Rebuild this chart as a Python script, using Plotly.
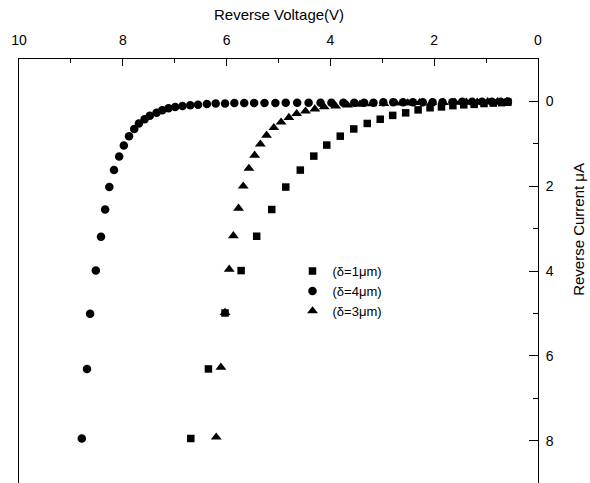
import plotly.graph_objects as go

# Reverse I-V characteristics for three spacings (voltage in V, current in uA)
v_d1 = [6.69, 6.35, 6.03, 5.72, 5.42, 5.13, 4.86, 4.58, 4.32, 4.07, 3.81, 3.55, 3.29,
        3.04, 2.80, 2.55, 2.31, 2.08, 1.86, 1.64, 1.43, 1.23, 1.04, 0.86, 0.70, 0.58]
i_d1 = [7.95, 6.31, 4.99, 3.99, 3.18, 2.55, 2.02, 1.62, 1.29, 1.03, 0.82, 0.65, 0.52,
        0.42, 0.33, 0.27, 0.20, 0.15, 0.13, 0.10, 0.08, 0.07, 0.05, 0.04, 0.03, 0.02]

v_d4 = [8.79, 8.69, 8.63, 8.52, 8.42, 8.34, 8.26, 8.17, 8.07, 7.98, 7.88, 7.78, 7.69,
        7.58, 7.48, 7.35, 7.24, 7.12, 6.99, 6.85, 6.70, 6.55, 6.38, 6.21, 6.03, 5.85,
        5.66, 5.47, 5.27, 5.06, 4.86, 4.64, 4.42, 4.19, 3.98, 3.75, 3.54, 3.35, 3.17,
        2.98, 2.79, 2.60, 2.41, 2.22, 2.03, 1.84, 1.65, 1.46, 1.27, 1.08, 0.89, 0.72, 0.58]
i_d4 = [7.95, 6.31, 5.01, 3.99, 3.19, 2.55, 2.02, 1.62, 1.30, 1.04, 0.82, 0.65, 0.52,
        0.42, 0.34, 0.27, 0.21, 0.16, 0.13, 0.11, 0.09, 0.08, 0.06, 0.05, 0.05, 0.04,
        0.04, 0.04, 0.04, 0.04, 0.03, 0.03, 0.03, 0.03, 0.03, 0.03, 0.03, 0.03, 0.03,
        0.02, 0.02, 0.02, 0.02, 0.02, 0.02, 0.02, 0.02, 0.01, 0.01, 0.01, 0.01, 0.01, 0.00]

v_d3 = [6.20, 6.11, 6.03, 5.95, 5.87, 5.77, 5.68, 5.57, 5.46, 5.35, 5.23, 5.09, 4.95,
        4.80, 4.65, 4.48, 4.30, 4.12, 3.90, 3.67, 3.43, 3.20, 2.97, 2.74, 2.51, 2.28,
        2.05, 1.82, 1.60, 1.38, 1.17, 0.97, 0.78, 0.60]
i_d3 = [7.92, 6.27, 4.98, 3.96, 3.17, 2.52, 2.00, 1.58, 1.27, 1.01, 0.80, 0.62, 0.49,
        0.38, 0.29, 0.23, 0.18, 0.13, 0.11, 0.09, 0.07, 0.06, 0.05, 0.04, 0.04, 0.03,
        0.03, 0.03, 0.02, 0.02, 0.02, 0.01, 0.01, 0.01]

names = ["(δ=1μm)", "(δ=4μm)", "(δ=3μm)"]
FONT = "Liberation Sans, Arial, sans-serif"

fig = go.Figure()
fig.add_trace(go.Scatter(x=v_d1, y=i_d1, mode="markers", name=names[0],
                         marker=dict(symbol="square", size=7.5, color="black")))
fig.add_trace(go.Scatter(x=v_d4, y=i_d4, mode="markers", name=names[1],
                         marker=dict(symbol="circle", size=8.5, color="black")))
fig.add_trace(go.Scatter(x=v_d3, y=i_d3, mode="markers", name=names[2],
                         marker=dict(symbol="triangle-up", size=9.5, color="black")))

fig.update_layout(
    width=590, height=483,
    margin=dict(l=19, r=52, t=59, b=0),
    paper_bgcolor="white", plot_bgcolor="white",
    font=dict(family=FONT, size=13, color="black"),
    showlegend=True,
    legend=dict(x=0.527, y=0.535, xanchor="left", yanchor="top",
                bgcolor="rgba(0,0,0,0)", font=dict(size=13),
                itemwidth=30, tracegroupgap=0),
    xaxis=dict(
        side="top", range=[10, 0], dtick=2, tick0=0,
        showgrid=False, zeroline=False,
        showline=True, linecolor="black", linewidth=1, mirror=False,
        ticks="inside", ticklen=7, tickcolor="black", tickwidth=1,
        minor=dict(dtick=1, ticks="inside", ticklen=4, tickcolor="black", showgrid=False),
        ticklabelstandoff=7,
        tickfont=dict(size=14),
    ),
    yaxis=dict(
        side="right", range=[9, -1], dtick=2, tick0=0,
        showgrid=False, zeroline=False,
        showline=True, linecolor="black", linewidth=1, mirror=True,
        ticks="inside", ticklen=9, tickcolor="black", tickwidth=1,
        minor=dict(dtick=1, ticks="inside", ticklen=5, tickcolor="black", showgrid=False),
        ticklabelstandoff=4,
        tickfont=dict(size=14),
    ),
    annotations=[
        dict(text="Reverse Voltage(V)", xref="paper", yref="paper",
             x=0.5, y=1.104, showarrow=False, font=dict(size=15),
             xanchor="center", yanchor="middle"),
        dict(text="Reverse Current μA", xref="paper", yref="paper",
             x=1.079, y=0.597, showarrow=False, font=dict(size=15),
             textangle=-90, xanchor="center", yanchor="middle"),
    ],
)

fig.write_html("out.html")
